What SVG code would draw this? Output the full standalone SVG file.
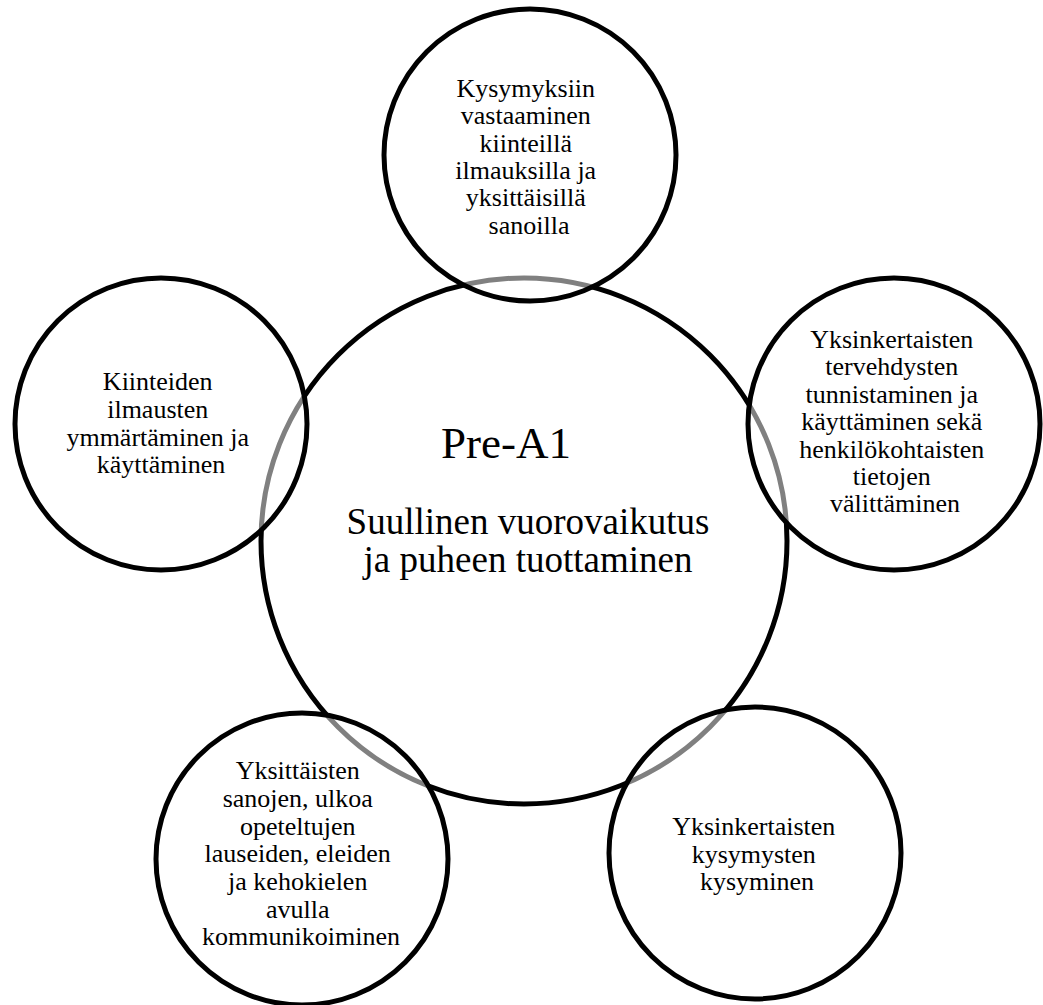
<svg xmlns="http://www.w3.org/2000/svg" width="1043" height="1005" viewBox="0 0 1043 1005">
  <style>
    .ring { stroke: #000; stroke-width: 5; }
    .hub { fill: #fff; }
    .sat { fill: #fff; fill-opacity: 0.5; }
    text { font-family: "Liberation Serif", "Times New Roman", serif; fill: #000; text-anchor: middle; }
    .s { font-size: 26px; }
    .title { font-size: 45px; }
    .sub { font-size: 37px; }
  </style>
  <rect width="1043" height="1005" fill="#fff"/>

  <!-- central circle -->
  <g id="hub">
    <circle class="ring hub" cx="524" cy="541" r="263"/>
    <text class="title" x="506" y="458">Pre-A1</text>
    <text class="sub" x="528" y="534">Suullinen vuorovaikutus</text>
    <text class="sub" x="528" y="572">ja puheen tuottaminen</text>
  </g>

  <!-- surrounding circles, half-transparent so the hub outline shows through grey -->
  <g id="top">
    <circle class="ring sat" cx="530" cy="155" r="146"/>
    <text class="s">
      <tspan x="529" y="97">Kysymyksiin</tspan>
      <tspan x="529" y="124">vastaaminen</tspan>
      <tspan x="529" y="152">kiinteillä</tspan>
      <tspan x="529" y="179">ilmauksilla ja</tspan>
      <tspan x="529" y="206">yksittäisillä</tspan>
      <tspan x="529" y="234">sanoilla</tspan>
    </text>
  </g>

  <g id="left">
    <circle class="ring sat" cx="161" cy="424" r="146"/>
    <text class="s">
      <tspan x="161" y="390">Kiinteiden</tspan>
      <tspan x="161" y="418">ilmausten</tspan>
      <tspan x="161" y="446">ymmärtäminen ja</tspan>
      <tspan x="161" y="473">käyttäminen</tspan>
    </text>
  </g>

  <g id="right">
    <circle class="ring sat" cx="894" cy="424" r="146"/>
    <text class="s">
      <tspan x="895" y="348">Yksinkertaisten</tspan>
      <tspan x="895" y="375">tervehdysten</tspan>
      <tspan x="895" y="403">tunnistaminen ja</tspan>
      <tspan x="895" y="430">käyttäminen sekä</tspan>
      <tspan x="895" y="458">henkilökohtaisten</tspan>
      <tspan x="895" y="485">tietojen</tspan>
      <tspan x="895" y="512">välittäminen</tspan>
    </text>
  </g>

  <g id="bottom-left">
    <circle class="ring sat" cx="302" cy="859" r="146"/>
    <text class="s">
      <tspan x="301" y="779">Yksittäisten</tspan>
      <tspan x="301" y="807">sanojen, ulkoa</tspan>
      <tspan x="301" y="835">opeteltujen</tspan>
      <tspan x="301" y="862">lauseiden, eleiden</tspan>
      <tspan x="301" y="890">ja kehokielen</tspan>
      <tspan x="301" y="918">avulla</tspan>
      <tspan x="301" y="945">kommunikoiminen</tspan>
    </text>
  </g>

  <g id="bottom-right">
    <circle class="ring sat" cx="755" cy="853" r="146"/>
    <text class="s">
      <tspan x="757" y="835">Yksinkertaisten</tspan>
      <tspan x="757" y="863">kysymysten</tspan>
      <tspan x="757" y="890">kysyminen</tspan>
    </text>
  </g>
</svg>
